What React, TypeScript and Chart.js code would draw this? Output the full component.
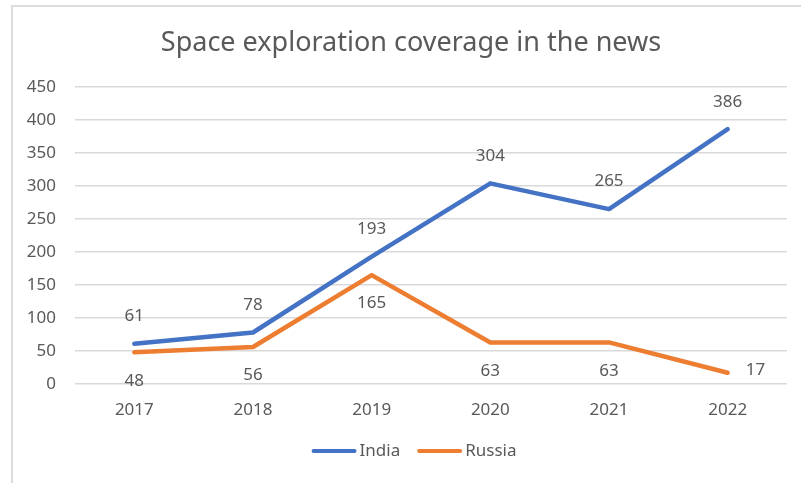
import React, { useEffect, useRef } from 'react';
import { Chart, registerables } from 'chart.js';

Chart.register(...registerables);

// ---- data ----
const chartTitle = 'Space exploration coverage in the news';
const years = ['2017', '2018', '2019', '2020', '2021', '2022'];
const seriesNames = ['India', 'Russia'];
const indiaValues = [61, 78, 193, 304, 265, 386];
const russiaValues = [48, 56, 165, 63, 63, 17];
const yMin = 0;
const yMax = 450;
const yStep = 50;

// label placement per point (style, not data)
const indiaLabelPos = ['above', 'above', 'above', 'above', 'above', 'above'];
const russiaLabelPos = ['below', 'below', 'below', 'below', 'below', 'right'];

const COLORS = ['#4472C4', '#ED7D31'];
const TEXT = '#595959';
const GRID = '#d9d9d9';
const FONT = '"Noto Sans", "Open Sans", sans-serif';

const decorPlugin = {
  id: 'decor',
  beforeDraw(chart: any) {
    const ctx = chart.ctx;
    ctx.save();
    ctx.fillStyle = '#ffffff';
    ctx.fillRect(0, 0, chart.width, chart.height);
    ctx.strokeStyle = '#dcdcdc';
    ctx.lineWidth = 2;
    ctx.strokeRect(12, 6, chart.width + 20, chart.height + 20);
    ctx.restore();
  },
  afterDatasetsDraw(chart: any) {
    const ctx = chart.ctx;
    const positions = [indiaLabelPos, russiaLabelPos];
    ctx.save();
    ctx.font = `17px ${FONT}`;
    ctx.fillStyle = TEXT;
    chart.data.datasets.forEach((ds: any, di: number) => {
      const meta = chart.getDatasetMeta(di);
      meta.data.forEach((el: any, i: number) => {
        const pos = positions[di][i];
        const txt = String(ds.data[i]);
        if (pos === 'right') {
          ctx.textAlign = 'left';
          ctx.textBaseline = 'middle';
          ctx.fillText(txt, el.x + 18, el.y - 3);
        } else {
          ctx.textAlign = 'center';
          ctx.textBaseline = 'middle';
          ctx.fillText(txt, el.x, el.y + (pos === 'above' ? -27.5 : 28.5));
        }
      });
    });
    ctx.restore();
  },
  afterDraw(chart: any) {
    const ctx = chart.ctx;
    ctx.save();
    // title
    ctx.font = `27px ${FONT}`;
    ctx.fillStyle = TEXT;
    ctx.textAlign = 'center';
    ctx.textBaseline = 'middle';
    ctx.fillText(chartTitle, 411, 43);
    // legend
    ctx.font = `17px ${FONT}`;
    const lineLen = 45;
    const gap = 3;
    const itemGap = 17;
    const items = chart.data.datasets.map((ds: any) => ({
      label: ds.label,
      color: ds.borderColor,
      w: lineLen + gap + ctx.measureText(ds.label).width,
    }));
    const total = items.reduce((s: number, it: any) => s + it.w, 0) + itemGap * (items.length - 1);
    let x = 414 - total / 2;
    const y = 451;
    items.forEach((it: any) => {
      ctx.strokeStyle = it.color;
      ctx.lineWidth = 4;
      ctx.lineCap = 'round';
      ctx.beginPath();
      ctx.moveTo(x + 2, y);
      ctx.lineTo(x + lineLen - 2, y);
      ctx.stroke();
      ctx.fillStyle = TEXT;
      ctx.textAlign = 'left';
      ctx.textBaseline = 'middle';
      ctx.fillText(it.label, x + lineLen + gap, y);
      x += it.w + itemGap;
    });
    ctx.restore();
  },
};

export default function App() {
  const ref = useRef<HTMLCanvasElement | null>(null);
  useEffect(() => {
    if (!ref.current) return;
    const chart = new Chart(ref.current, {
      type: 'line',
      data: {
        labels: years,
        datasets: [
          {
            label: seriesNames[0],
            data: indiaValues,
            borderColor: COLORS[0],
            backgroundColor: COLORS[0],
            borderWidth: 4.5,
            borderCapStyle: 'round',
            borderJoinStyle: 'round',
            pointRadius: 0,
            tension: 0,
          },
          {
            label: seriesNames[1],
            data: russiaValues,
            borderColor: COLORS[1],
            backgroundColor: COLORS[1],
            borderWidth: 4.5,
            borderCapStyle: 'round',
            borderJoinStyle: 'round',
            pointRadius: 0,
            tension: 0,
          },
        ],
      },
      options: {
        animation: false,
        responsive: false,
        devicePixelRatio: 1,
        layout: { padding: { top: 87, right: 14, bottom: 46.6, left: 0 } },
        plugins: {
          legend: { display: false },
          title: { display: false },
          tooltip: { enabled: false },
        },
        scales: {
          x: {
            offset: true,
            grid: { display: false, drawTicks: false },
            border: { display: false },
            ticks: { color: TEXT, font: { family: FONT, size: 17 }, padding: 16 },
          },
          y: {
            min: yMin,
            max: yMax,
            afterFit: (s: any) => { s.width = 75; },
            grid: { color: GRID, lineWidth: 1.5, drawTicks: false },
            border: { display: false },
            ticks: { stepSize: yStep, color: TEXT, font: { family: FONT, size: 17 }, padding: 19 },
          },
        },
      },
      plugins: [decorPlugin],
    } as any);
    return () => chart.destroy();
  }, []);
  return (
    <div style={{ position: 'fixed', left: 0, top: 0, width: 801, height: 483 }}>
      <canvas ref={ref} width={801} height={483} style={{ width: 801, height: 483, display: 'block' }} />
    </div>
  );
}
